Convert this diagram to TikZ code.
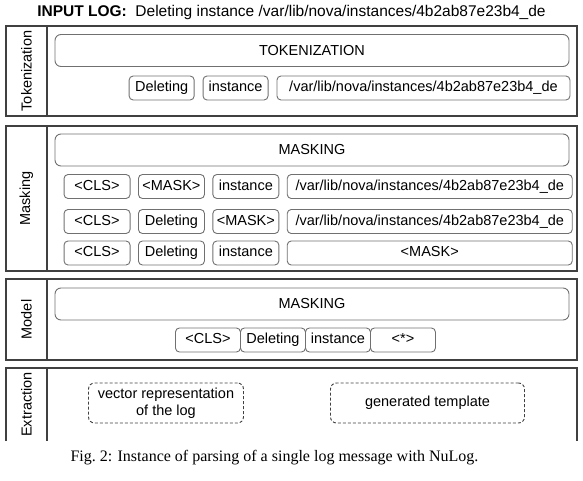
\documentclass[tikz,border=0pt]{standalone}
\usepackage{fontspec}
\setmainfont{Liberation Sans}
\newfontfamily\capfont{Liberation Serif}
\usetikzlibrary{positioning}
\definecolor{panelgray}{RGB}{64, 64, 64}
\definecolor{boxgray}{RGB}{112, 112, 112}
\newcommand{\logpath}{/var/lib/nova/instances/4b2ab87e23b4\_de}

\tikzset{
    panel/.style={draw=panelgray, line width=1.2pt},
    stagelabel/.style={rotate=90, font=\fontsize{14.5}{17}\selectfont},
    widebox/.style={draw=boxgray, line width=0.9pt, rounded corners=6pt, minimum width=514pt, minimum height=32pt, inner sep=0pt, font=\fontsize{14.5}{17}\selectfont},
    token/.style={draw=boxgray, line width=0.9pt, rounded corners=4pt, minimum height=24pt, inner sep=0pt, text height=10.5pt, text depth=3pt, font=\fontsize{14.5}{17}\selectfont},
    outbox/.style={draw=panelgray, line width=0.9pt, densely dashed, rounded corners=6pt, minimum height=40pt, inner sep=0pt, align=center, font=\fontsize{14.5}{17}\selectfont}
}

\begin{document}
\begin{tikzpicture}[x=1pt, y=-1pt, node distance=8pt]
    \useasboundingbox (0,0) rectangle (583,481);

    \node[font=\fontsize{15.5}{18}\selectfont] (inputlog) at (291.5,12) {\textbf{INPUT LOG:}\ \ Deleting instance \logpath};

    % stage panels
    \foreach \lbl/\ya/\yb in {Tokenization/26/116, Masking/126/271, Model/279/360}{
        \draw[panel] (6,\ya) rectangle (577,\yb);
        \draw[panel] (47,\ya) -- (47,\yb);
        \node[stagelabel] (lbl-\lbl) at (26.5,{(\ya+\yb)/2}) {\lbl};
    }
    \draw[panel] (6,441) |- (577,368) -- (577,441);
    \draw[panel] (47,368) -- (47,441);
    \node[stagelabel] (lbl-Extraction) at (26.5,404.5) {Extraction};

    % tokenization
    \node[widebox] (tokenization) at (312,50.5) {TOKENIZATION};
    \node[token, minimum width=65pt, anchor=west] (t1) at (128.7,88) {Deleting};
    \node[token, minimum width=65pt, right=of t1] (t2) {instance};
    \node[token, minimum width=293pt, right=of t2] (t3) {\logpath};

    % masking
    \node[widebox] (masking) at (312,150) {MASKING};
    \node[token, minimum width=66pt, anchor=west] (m11) at (63.6,186.5) {<CLS>};
    \node[token, minimum width=66pt, right=7.5pt of m11] (m12) {<MASK>};
    \node[token, minimum width=66pt, right=7.5pt of m12] (m13) {instance};
    \node[token, minimum width=285pt, right=7.5pt of m13] (m14) {\logpath};
    \node[token, minimum width=66pt, anchor=west] (m21) at (63.6,221.5) {<CLS>};
    \node[token, minimum width=66pt, right=7.5pt of m21] (m22) {Deleting};
    \node[token, minimum width=66pt, right=7.5pt of m22] (m23) {<MASK>};
    \node[token, minimum width=285pt, right=7.5pt of m23] (m24) {\logpath};
    \node[token, minimum width=66pt, anchor=west] (m31) at (63.6,253) {<CLS>};
    \node[token, minimum width=66pt, right=7.5pt of m31] (m32) {Deleting};
    \node[token, minimum width=66pt, right=7.5pt of m32] (m33) {instance};
    \node[token, minimum width=285pt, right=7.5pt of m33] (m34) {<MASK>};

    % model
    \node[widebox] (model) at (312,304) {MASKING};
    \node[token, minimum width=65pt, anchor=west] (p1) at (175,340) {<CLS>};
    \node[token, minimum width=65pt, right=-0.9pt of p1] (p2) {Deleting};
    \node[token, minimum width=65pt, right=-0.9pt of p2] (p3) {instance};
    \node[token, minimum width=65pt, right=-0.9pt of p3] (p4) {<*>};

    % extraction
    \node[outbox, minimum width=155pt] (vector) at (166,403) {vector representation\\of the log};
    \node[outbox, minimum width=194pt] (template) at (427.5,403) {generated template};

    \node[font=\capfont\fontsize{16}{19}\selectfont] (caption) at (274.5,458) {Fig.~2: Instance of parsing of a single log message with NuLog.};
\end{tikzpicture}
\end{document}
